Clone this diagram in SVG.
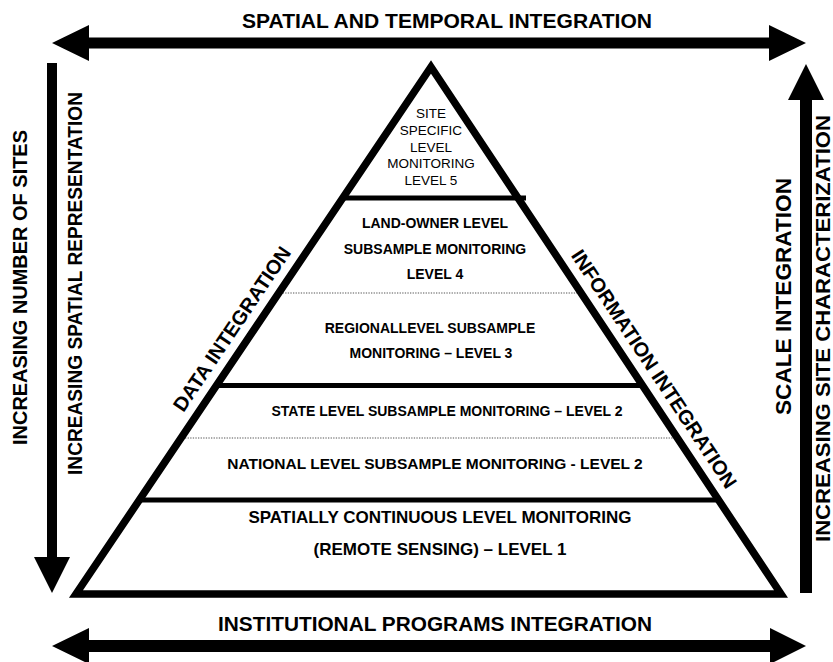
<svg xmlns="http://www.w3.org/2000/svg" width="833" height="662" viewBox="0 0 833 662">
  <style>
    text { font-family: "Liberation Sans", Arial, sans-serif; fill: #000; }
    .tier { font-size: 14px; font-weight: bold; text-anchor: middle; }
    .top { font-size: 13.5px; text-anchor: middle; }
    .axis { font-size: 21px; font-weight: bold; text-anchor: middle; }
    .side { font-size: 20px; font-weight: bold; }
    .solid { stroke: #000; stroke-width: 4.8; }
    .dot { stroke: #555; stroke-width: 1.2; stroke-dasharray: 1.3 1.3; }
    .arrow { fill: #000; }
  </style>
  <rect width="833" height="662" fill="#fff"/>

  <!-- axis arrows -->
  <g id="connectors">
    <!-- top double arrow -->
    <polygon class="arrow" points="52,43 89,25 89,37.5 769,37.5 769,25 806,43 769,61 769,48.5 89,48.5 89,61"/>
    <!-- bottom double arrow -->
    <polygon class="arrow" points="52,646 89,628 89,640 770,640 770,628 806,646 770,664 770,652 89,652 89,664"/>
    <!-- left downward arrow -->
    <polygon class="arrow" points="47,63 57,63 57,557 70,557 52,593 34,557 47,557"/>
    <!-- right upward arrow -->
    <polygon class="arrow" points="806,64 824,100 812,100 812,593 800,593 800,100 788,100"/>
  </g>

  <!-- pyramid tiers -->
  <g id="pyramid">
    <line class="solid" x1="343" y1="198" x2="526" y2="198"/>
    <line class="dot" x1="280" y1="293" x2="577" y2="293"/>
    <line class="solid" x1="217" y1="385.5" x2="641" y2="385.5"/>
    <line class="dot" x1="185" y1="438" x2="673" y2="438"/>
    <line class="solid" x1="140" y1="500" x2="718" y2="500"/>
    <polygon points="431,67 781,594 76,594" fill="none" stroke="#000" stroke-width="7.5" stroke-linejoin="miter" stroke-miterlimit="10"/>
  </g>

  <g id="level5">
    <text class="top" x="431" y="118">SITE</text>
    <text class="top" x="431" y="135">SPECIFIC</text>
    <text class="top" x="431" y="152">LEVEL</text>
    <text class="top" x="431" y="168">MONITORING</text>
    <text class="top" x="431" y="185">LEVEL 5</text>
  </g>
  <g id="level4">
    <text class="tier" x="435" y="228">LAND-OWNER LEVEL</text>
    <text class="tier" x="435" y="254">SUBSAMPLE MONITORING</text>
    <text class="tier" x="435" y="279">LEVEL 4</text>
  </g>
  <g id="level3">
    <text class="tier" x="430" y="333">REGIONALLEVEL SUBSAMPLE</text>
    <text class="tier" x="431" y="358">MONITORING – LEVEL 3</text>
  </g>
  <g id="level2-state">
    <text class="tier" x="447" y="416">STATE LEVEL SUBSAMPLE MONITORING – LEVEL 2</text>
  </g>
  <g id="level2-national">
    <text class="tier" x="435" y="469" style="font-size:15.5px">NATIONAL LEVEL SUBSAMPLE MONITORING - LEVEL 2</text>
  </g>
  <g id="level1">
    <text class="tier" x="440" y="523" style="font-size:17px">SPATIALLY CONTINUOUS LEVEL MONITORING</text>
    <text class="tier" x="440" y="555" style="font-size:17px">(REMOTE SENSING) – LEVEL 1</text>
  </g>

  <!-- integration labels -->
  <g id="label-spatial-temporal">
    <text class="axis" x="447" y="28" textLength="410" lengthAdjust="spacingAndGlyphs">SPATIAL AND TEMPORAL INTEGRATION</text>
  </g>
  <g id="label-institutional">
    <text class="axis" x="435" y="631" textLength="434" lengthAdjust="spacingAndGlyphs">INSTITUTIONAL PROGRAMS INTEGRATION</text>
  </g>
  <g id="label-data">
    <text class="side" transform="translate(183.4,413) rotate(-56)">DATA INTEGRATION</text>
  </g>
  <g id="label-information">
    <text class="side" text-anchor="end" transform="translate(726.3,490) rotate(56.4)">INFORMATION INTEGRATION</text>
  </g>
  <g id="label-sites">
    <text class="axis" style="font-size:20px" transform="translate(27,287.5) rotate(-90)" textLength="315" lengthAdjust="spacingAndGlyphs">INCREASING NUMBER OF SITES</text>
  </g>
  <g id="label-spatial-rep">
    <text class="axis" style="font-size:20px" transform="translate(82,283.5) rotate(-90)" textLength="383" lengthAdjust="spacingAndGlyphs">INCREASING SPATIAL REPRESENTATION</text>
  </g>
  <g id="label-scale">
    <text class="axis" style="font-size:21.5px" transform="translate(791,296.5) rotate(-90)" textLength="237" lengthAdjust="spacingAndGlyphs">SCALE INTEGRATION</text>
  </g>
  <g id="label-site-char">
    <text class="axis" style="font-size:20.5px" transform="translate(830,328.5) rotate(-90)" textLength="427" lengthAdjust="spacingAndGlyphs">INCREASING SITE CHARACTERIZATION</text>
  </g>
</svg>
